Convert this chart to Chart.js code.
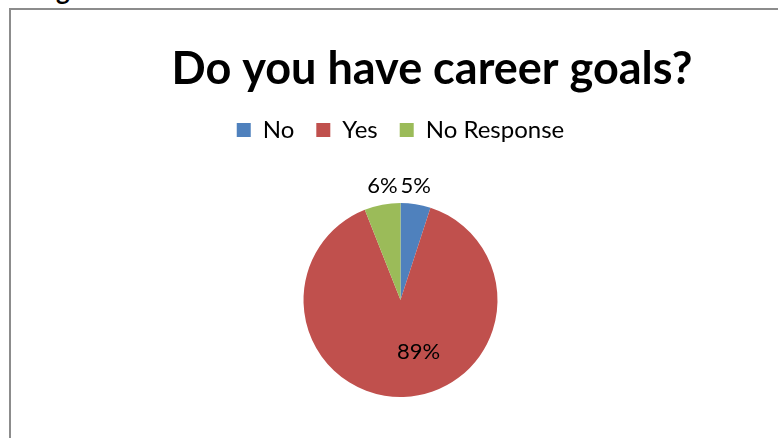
<!DOCTYPE html>
<html>
<head>
<meta charset="utf-8">
<script src="https://cdn.jsdelivr.net/npm/chart.js@4"></script>
<style>
  body { margin: 0; background: #fff; width: 778px; height: 438px; overflow: hidden; position: relative; }
  #clip { position: absolute; left: 50px; top: 0; width: 30px; height: 4px; overflow: hidden; }
  #clip span { position: absolute; left: 6px; top: -26px; font: bold 26px Lato, sans-serif; color: #000; }
  #frame { position: absolute; left: 9px; top: 8px; width: 800px; height: 440px;
           border-left: 2px solid #8c8c8c; border-top: 2px solid #8c8c8c; }
  #wrap { position: absolute; left: 11px; top: 10px; width: 767px; height: 444px; }
</style>
</head>
<body>
<div id="clip"><span>g</span></div>
<div id="frame"></div>
<div id="wrap"><canvas id="goals"></canvas></div>
<script>
const chartTitle = 'Do you have career goals?'
const categories = ['No', 'Yes', 'No Response']
const percents = [5, 89, 6]
const colors = ['#4F81BD', '#C0504D', '#9BBB59']

// title sits right of centre in the original, so draw it by hand
const titlePlugin = {
  id: 'sideTitle',
  afterDraw(chart) {
    const ctx = chart.ctx
    ctx.save()
    ctx.font = 'bold 45px Lato'
    ctx.fillStyle = '#000'
    ctx.textAlign = 'center'
    ctx.textBaseline = 'middle'
    ctx.fillText(chartTitle, 421, 59)
    ctx.restore()
  }
}

// percent labels, small slices above the pie, big one inside
const labelPlugin = {
  id: 'pctLabels',
  afterDatasetsDraw(chart) {
    const ctx = chart.ctx
    const arcs = chart.getDatasetMeta(0).data
    ctx.save()
    ctx.font = '22px Lato'
    ctx.fillStyle = '#000'
    ctx.textAlign = 'center'
    ctx.textBaseline = 'middle'
    arcs.forEach((arc, i) => {
      const p = arc.getProps(['x', 'y', 'startAngle', 'endAngle', 'outerRadius'], true)
      const mid = (p.startAngle + p.endAngle) / 2
      let x, y
      if (percents[i] < 20) {
        x = p.x + Math.cos(mid) * p.outerRadius
        y = p.y - p.outerRadius - 17
      } else {
        x = p.x + 18
        y = p.y + 52
      }
      ctx.fillText(percents[i] + '%', x, y)
    })
    ctx.restore()
  }
}

const ctx = document.getElementById('goals').getContext('2d')
const goalsChart = new Chart(ctx, {
  type: 'pie',
  data: {
    labels: categories,
    datasets: [{
      data: percents,
      backgroundColor: colors,
      borderWidth: 0,
      radius: 97
    }]
  },
  options: {
    responsive: true,
    maintainAspectRatio: false,
    animation: false,
    layout: {
      padding: { top: 86, bottom: 6, left: 12, right: 0 }
    },
    plugins: {
      title: { display: false },
      tooltip: { enabled: false },
      legend: {
        position: 'top',
        labels: {
          font: { family: 'Lato', size: 24 },
          color: '#000',
          boxWidth: 14,
          boxHeight: 14,
          padding: 22
        }
      }
    }
  },
  plugins: [titlePlugin, labelPlugin]
})
</script>
</body>
</html>
